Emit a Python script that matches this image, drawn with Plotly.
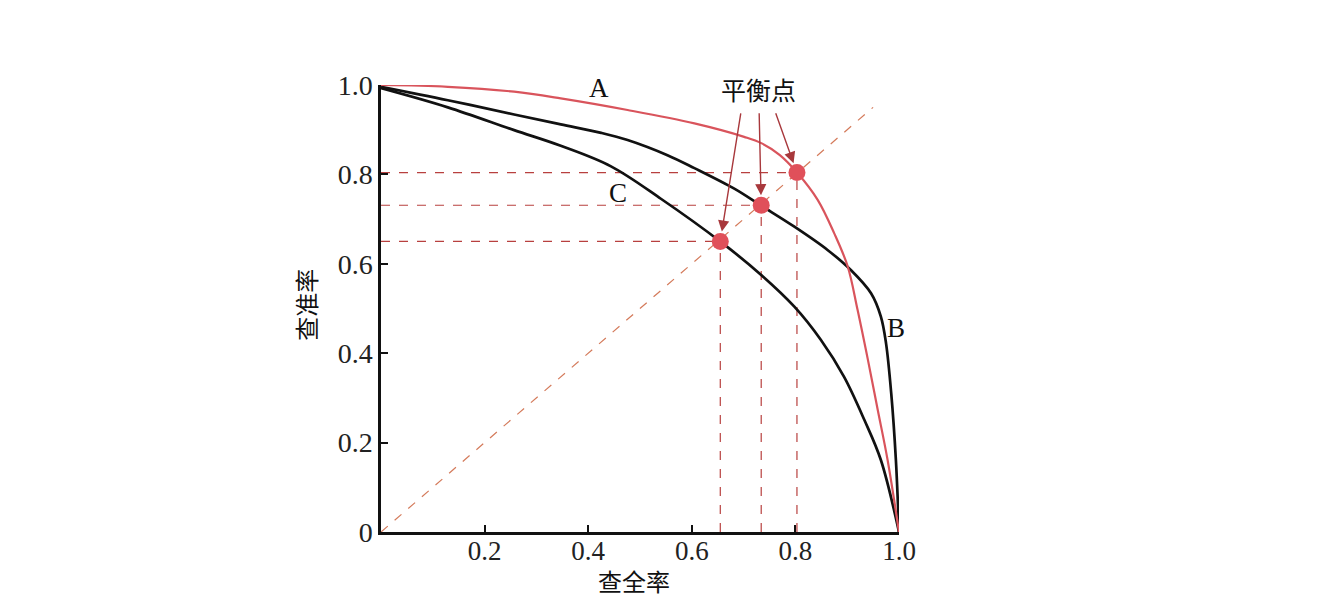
import plotly.graph_objects as go

# Curve A (red)
A_x = [0.0, 0.129, 0.257, 0.347, 0.476, 0.605, 0.701, 0.734, 0.770, 0.804, 0.843, 0.875, 0.901, 0.920, 0.940, 0.959, 0.978, 1.0]
A_y = [1.0, 0.996, 0.985, 0.970, 0.944, 0.914, 0.884, 0.870, 0.843, 0.803, 0.743, 0.668, 0.594, 0.497, 0.385, 0.273, 0.161, 0.0]
# Curve B (black, outer)
B_x = [0.0, 0.129, 0.257, 0.347, 0.425, 0.476, 0.553, 0.605, 0.682, 0.734, 0.798, 0.862, 0.907, 0.946, 0.965, 0.975, 0.985, 0.994, 1.0]
B_y = [0.996, 0.966, 0.934, 0.912, 0.893, 0.877, 0.843, 0.814, 0.768, 0.730, 0.683, 0.631, 0.586, 0.534, 0.482, 0.422, 0.310, 0.161, 0.0]
# Curve C (black, inner)
C_x = [0.0, 0.129, 0.257, 0.347, 0.444, 0.541, 0.656, 0.734, 0.798, 0.849, 0.894, 0.933, 0.965, 1.0]
C_y = [0.993, 0.950, 0.899, 0.864, 0.818, 0.745, 0.649, 0.575, 0.504, 0.430, 0.347, 0.251, 0.161, 0.0]

# Break-even points (C, B, A)
BEP_x = [0.655, 0.734, 0.803]
BEP_y = [0.650, 0.731, 0.804]

# Diagonal guide
diag_x = [0.0, 0.95]
diag_y = [0.0, 0.95]

# Arrow tails (from the label) for each break-even point
arrow_tail_x = [0.695, 0.730, 0.761]
arrow_tail_y = [0.940, 0.940, 0.940]

curve_labels = ["A", "B", "C"]
label_x = [0.421, 0.994, 0.458]
label_y = [0.993, 0.456, 0.758]

x_ticks = [0.2, 0.4, 0.6, 0.8, 1.0]
x_ticktext = ["0.2", "0.4", "0.6", "0.8", "1.0"]
y_ticks = [0.0, 0.2, 0.4, 0.6, 0.8, 1.0]
y_ticktext = ["0", "0.2", "0.4", "0.6", "0.8", "1.0"]

RED = "#d9545c"
DARKRED = "#b8403f"
SERIF = "Liberation Serif, DejaVu Serif, serif"
CJK = "Noto Sans CJK SC, Noto Sans CJK JP, sans-serif"

fig = go.Figure()

# diagonal
fig.add_trace(go.Scatter(x=diag_x, y=diag_y, mode="lines",
                         line=dict(color="#d47a5a", width=1.2, dash="dash"),
                         hoverinfo="skip", showlegend=False))

# drop lines
for bx, by in zip(BEP_x, BEP_y):
    fig.add_trace(go.Scatter(x=[0, bx], y=[by, by], mode="lines",
                             line=dict(color=DARKRED, width=1.2, dash="dash"),
                             hoverinfo="skip", showlegend=False))
    fig.add_trace(go.Scatter(x=[bx, bx], y=[0, by], mode="lines",
                             line=dict(color=DARKRED, width=1.2, dash="dash"),
                             hoverinfo="skip", showlegend=False))

fig.add_trace(go.Scatter(x=C_x, y=C_y, mode="lines", line=dict(color="#111111", width=2.7, shape="spline", smoothing=1.0),
                         showlegend=False, cliponaxis=False))
fig.add_trace(go.Scatter(x=B_x, y=B_y, mode="lines", line=dict(color="#111111", width=2.7, shape="spline", smoothing=1.0),
                         showlegend=False, cliponaxis=False))
fig.add_trace(go.Scatter(x=A_x, y=A_y, mode="lines", line=dict(color=RED, width=2.2, shape="spline", smoothing=1.0),
                         showlegend=False, cliponaxis=False))

fig.add_trace(go.Scatter(x=BEP_x, y=BEP_y, mode="markers",
                         marker=dict(color="#e0505a", size=17, line=dict(width=0)),
                         showlegend=False, cliponaxis=False))

annotations = []
for lab, lx, ly in zip(curve_labels, label_x, label_y):
    annotations.append(dict(x=lx, y=ly, xref="x", yref="y", text=lab, showarrow=False,
                            font=dict(family=SERIF, size=27, color="#111111")))

annotations.append(dict(x=0.728, y=0.992, xref="x", yref="y", text="平衡点", showarrow=False,
                        font=dict(family=CJK, size=25, color="#111111")))

for bx, by, tx, ty in zip(BEP_x, BEP_y, arrow_tail_x, arrow_tail_y):
    annotations.append(dict(x=bx, y=by, xref="x", yref="y", ax=tx, ay=ty, axref="x", ayref="y",
                            text="", showarrow=True, arrowhead=2, arrowsize=1.6, arrowwidth=1.4,
                            arrowcolor="#a8383c", standoff=10))

# axis titles
annotations.append(dict(x=0.488, y=-0.108, xref="paper", yref="paper", xanchor="center", yanchor="middle",
                        text="查全率", showarrow=False,
                        font=dict(family=CJK, size=24, color="#111111")))
annotations.append(dict(x=-0.145, y=0.508, xref="paper", yref="paper", xanchor="center", yanchor="middle",
                        text="查准率", showarrow=False, textangle=-90,
                        font=dict(family=CJK, size=24, color="#111111")))

fig.update_layout(
    width=1326, height=614,
    margin=dict(l=373, r=435, t=77, b=90),
    paper_bgcolor="white", plot_bgcolor="white",
    annotations=annotations,
    xaxis=dict(range=[0, 1.0], showgrid=False, zeroline=False, showline=True, linecolor="#111111", linewidth=2.5,
               ticks="inside", ticklen=7, tickwidth=1.5, tickcolor="#111111",
               tickvals=x_ticks, ticktext=x_ticktext, ticklabelstandoff=-7,
               tickfont=dict(family=SERIF, size=27, color="#222222")),
    yaxis=dict(range=[0, 1.0], showgrid=False, zeroline=False, showline=True, linecolor="#111111", linewidth=2.5,
               ticks="inside", ticklen=7, tickwidth=1.5, tickcolor="#111111",
               tickvals=y_ticks, ticktext=y_ticktext,
               tickfont=dict(family=SERIF, size=28, color="#222222")),
)

fig.write_html("out.html")
